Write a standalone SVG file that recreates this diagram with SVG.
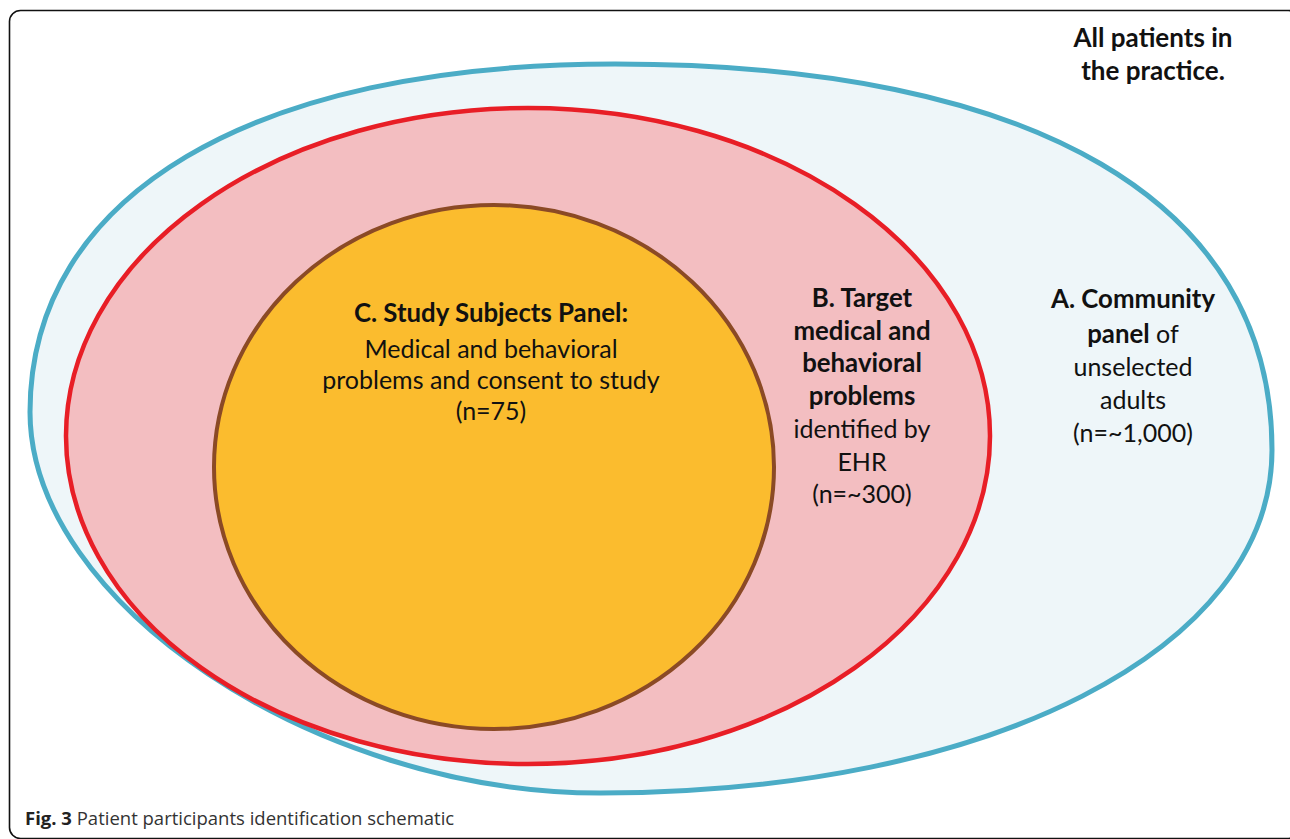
<svg xmlns="http://www.w3.org/2000/svg" width="1290" height="839" viewBox="0 0 1290 839">
<style>
.t{font-family:Lato,"Open Sans","Liberation Sans",sans-serif;font-size:25px;fill:#111;text-anchor:middle}
.b{font-weight:bold;font-size:25.8px}
.cap{font-family:"Open Sans","Liberation Sans",sans-serif;font-size:18.5px;fill:#333}
</style>
<rect x="9.5" y="10.5" width="1290" height="828" rx="11" fill="#fff" stroke="#111" stroke-width="1.6"/>
<g id="nodeA">
<path d="M30,412 C30,195 252,64 615,64 C1035,64 1272,202 1272,450 C1272,649 990,793 600,793 C315,793 30,602.5 30,412 Z" fill="#EEF6F9" stroke="#4BACC6" stroke-width="5"/>
<text class="t b" x="1133" y="308">A. Community</text>
<text class="t" x="1133" y="343"><tspan class="b">panel</tspan> of</text>
<text class="t" x="1133" y="376">unselected</text>
<text class="t" x="1133" y="409">adults</text>
<text class="t" x="1133" y="442">(n=~1,000)</text>
</g>
<g id="nodeB">
<ellipse cx="528" cy="436" rx="462" ry="328" fill="#F3BEC1" stroke="#E81E26" stroke-width="4.5"/>
<text class="t b" x="862" y="307">B. Target</text>
<text class="t b" x="862" y="340">medical and</text>
<text class="t b" x="862" y="372">behavioral</text>
<text class="t b" x="862" y="405">problems</text>
<text class="t" x="862" y="438">identified by</text>
<text class="t" x="862" y="471">EHR</text>
<text class="t" x="862" y="503">(n=~300)</text>
</g>
<g id="nodeC">
<ellipse cx="494" cy="467" rx="280" ry="262" fill="#FBBC2E" stroke="#8B4A25" stroke-width="4"/>
<text class="t b" x="491" y="322">C. Study Subjects Panel:</text>
<text class="t" x="491" y="358">Medical and behavioral</text>
<text class="t" x="491" y="389">problems and consent to study</text>
<text class="t" x="491" y="420">(n=75)</text>
</g>
<g id="label">
<text class="t b" x="1153" y="47" style="font-size:26px">All patients in</text>
<text class="t b" x="1153" y="80" style="font-size:26px">the practice.</text>
</g>
<g id="connectors"></g>
<text class="cap" x="25" y="825"><tspan font-weight="bold" fill="#222">Fig. 3</tspan> Patient participants identification schematic</text>
</svg>
